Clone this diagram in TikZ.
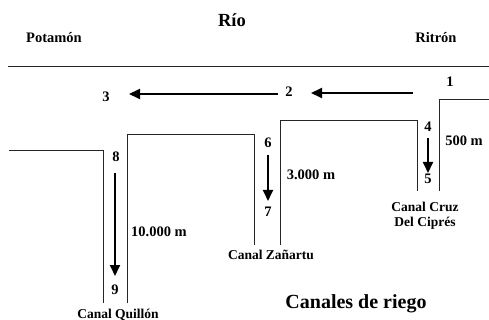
\documentclass[tikz,border=0pt]{standalone}
\usepackage{fontspec}
\setmainfont{Liberation Serif}
\usetikzlibrary{arrows.meta}
\begin{document}
\begin{tikzpicture}[x=1pt,y=-1pt,
  wall/.style={line width=0.9pt,black!85},
  arr/.style={line width=1.8pt,-{Triangle[length=11pt,width=10pt]}},
  lbl/.style={font=\bfseries\fontsize{14.5}{16}\selectfont,inner sep=0pt},
  cname/.style={font=\bfseries\fontsize{13.5}{15.5}\selectfont,inner sep=0pt,align=center},
  title/.style={font=\bfseries\fontsize{18.5}{20}\selectfont,inner sep=0pt}]
\useasboundingbox (0,0) rectangle (489,320);
% text
\node[title] (rio) at (232,20) {Río};
\node[lbl] (potamon) at (54,38) {Potamón};
\node[lbl] (ritron) at (436,38) {Ritrón};
\node[lbl] (n1) at (450,82) {1};
\node[lbl] (n2) at (289,92) {2};
\node[lbl] (n3) at (106,97) {3};
\node[lbl] (n4) at (428,127) {4};
\node[lbl] (n5) at (428,179) {5};
\node[lbl] (n6) at (268,143) {6};
\node[lbl] (n7) at (268,212) {7};
\node[lbl] (n8) at (116,157) {8};
\node[lbl] (n9) at (115,290) {9};
\node[lbl] (d500) at (464,141) {500 m};
\node[lbl] (d3000) at (311,175) {3.000 m};
\node[lbl] (d10000) at (159,232) {10.000 m};
\node[cname] (cruz) at (425,216) {Canal Cruz\\Del Ciprés};
\node[cname] (zanartu) at (271,255) {Canal Zañartu};
\node[cname] (quillon) at (118,315) {Canal Quillón};
\node[font=\bfseries\fontsize{20}{22}\selectfont,inner sep=0pt] (canales) at (356,304) {Canales de riego};
% river bank
\coordinate (rl) at (8,66);
\coordinate (rr) at (489,66);
\draw[wall] (rl) -- (rr);
% canal walls
\draw[wall] (9,150) -- (103,150) -- (103,303);
\draw[wall] (127,303) -- (127,134) -- (254,134) -- (254,245);
\draw[wall] (280,245) -- (280,120) -- (417,120) -- (417,191);
\draw[wall] (489,99) -- (439,99) -- (439,191);
% flow arrows
\coordinate (a1s) at (413,93);
\coordinate (a1e) at (311,93);
\coordinate (a2s) at (278,94);
\coordinate (a2e) at (129,94);
\draw[arr] (a1s) -- (a1e);
\draw[arr] (a2s) -- (a2e);
\coordinate (a4s) at (428,138);
\coordinate (a4e) at (428,173);
\draw[arr] (a4s) -- (a4e);
\coordinate (a6s) at (268,155);
\coordinate (a6e) at (268,201);
\draw[arr] (a6s) -- (a6e);
\coordinate (a8s) at (115,173);
\coordinate (a8e) at (115,276);
\draw[arr] (a8s) -- (a8e);
\end{tikzpicture}
\end{document}
